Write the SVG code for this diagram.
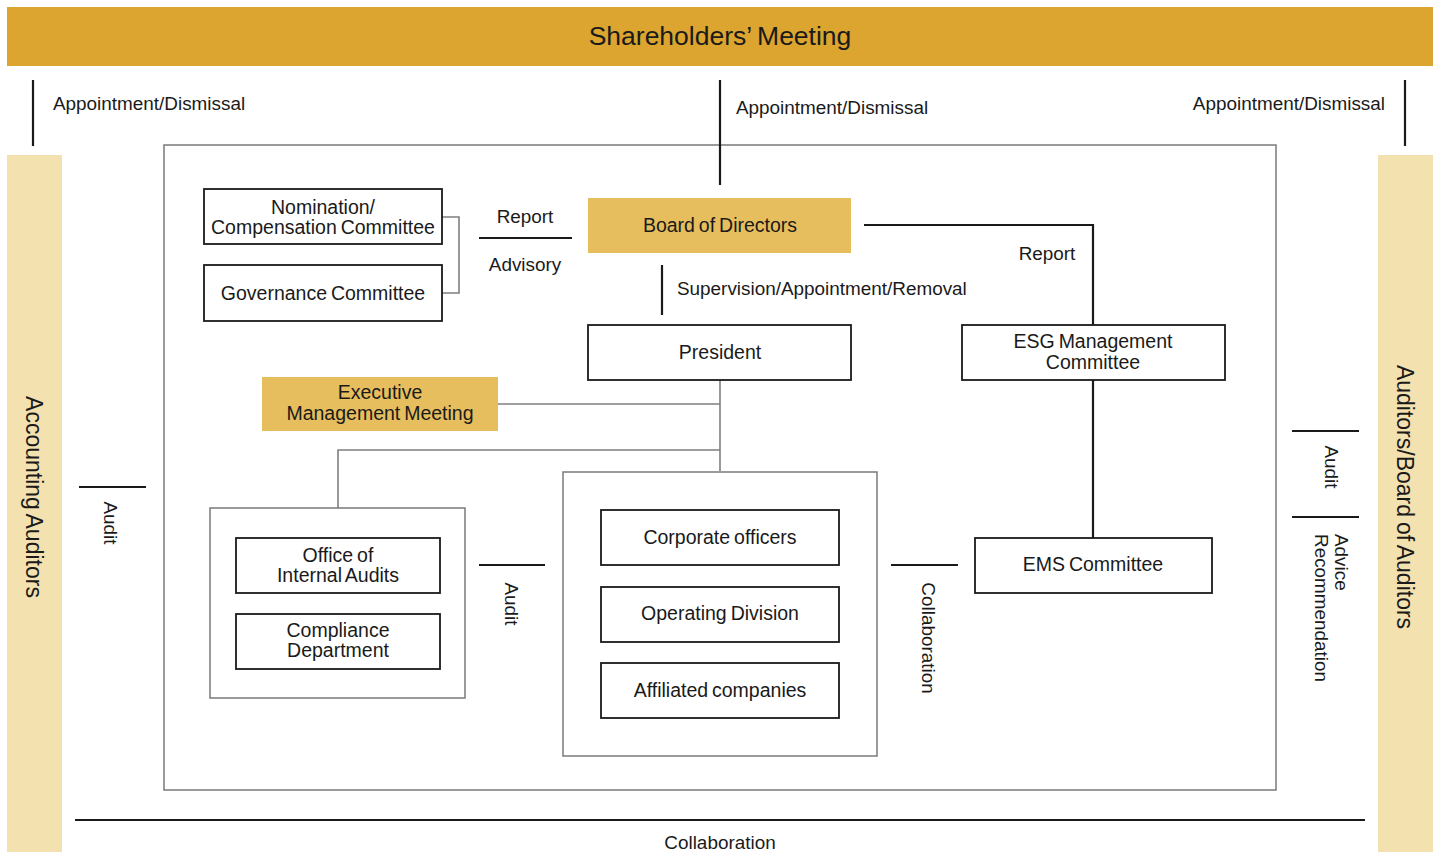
<svg xmlns="http://www.w3.org/2000/svg" width="1441" height="854" viewBox="0 0 1441 854">
<style>
text{font-family:"Liberation Sans",Arial,sans-serif;fill:#1a1a1a;word-spacing:-1.5px}
.t{font-size:19.5px;text-anchor:middle}
.l{font-size:18.9px}
.box{fill:#fff;stroke:#1a1a1a;stroke-width:1.8}
.gold{fill:#E6BE5E}
.frame{fill:none;stroke:#7a7a7a;stroke-width:1.5}
.blk{stroke:#1a1a1a;stroke-width:2.2;fill:none}
.gry{stroke:#7f7f7f;stroke-width:1.6;fill:none}
</style>
<rect width="1441" height="854" fill="#fff"/>

<g id="shareholders">
<rect x="7" y="7" width="1426" height="59" fill="#DBA530"/>
<text x="720" y="45" style="font-size:26.5px;text-anchor:middle">Shareholders’ Meeting</text>
</g>
<g id="accounting-auditors">
<rect x="7" y="155" width="55" height="697" fill="#F4E1B0"/>
<text transform="translate(34,497) rotate(90)" x="0" y="8" style="font-size:23px;text-anchor:middle">Accounting Auditors</text>
</g>
<g id="board-of-auditors">
<rect x="1378" y="155" width="55" height="697" fill="#F4E1B0"/>
<text transform="translate(1405,497) rotate(90)" x="0" y="8" style="font-size:23px;text-anchor:middle">Auditors/Board of Auditors</text>
</g>

<g id="frames">
<rect class="frame" x="164" y="145" width="1112" height="645"/>
<rect class="frame" x="210" y="508" width="255" height="190"/>
<rect class="frame" x="563" y="472" width="314" height="284"/>
</g>

<g id="connectors">
<line class="blk" x1="33" y1="80" x2="33" y2="146"/>
<line class="blk" x1="720" y1="80" x2="720" y2="185"/>
<line class="blk" x1="1405" y1="80" x2="1405" y2="146"/>
<path class="gry" d="M442 217 H459 V293 H442"/>
<line class="blk" x1="479" y1="238" x2="572" y2="238"/>
<path class="blk" d="M864 225 H1093 V325"/>
<line class="blk" x1="662" y1="265" x2="662" y2="315"/>
<line class="blk" x1="1093" y1="380" x2="1093" y2="538"/>
<path class="gry" d="M498 404 H720"/>
<path class="gry" d="M720 380 V471"/>
<path class="gry" d="M720 450 H338 V508"/>
<line class="blk" x1="479" y1="565" x2="545" y2="565"/>
<line class="blk" x1="891" y1="565" x2="958" y2="565"/>
<line class="blk" x1="79" y1="487" x2="146" y2="487"/>
<line class="blk" x1="1292" y1="431" x2="1359" y2="431"/>
<line class="blk" x1="1292" y1="517" x2="1359" y2="517"/>
<line class="blk" x1="75" y1="820" x2="1365" y2="820"/>
</g>

<g id="labels">
<text class="l" x="53" y="110">Appointment/Dismissal</text>
<text class="l" x="736" y="114">Appointment/Dismissal</text>
<text class="l" x="1385" y="110" style="text-anchor:end">Appointment/Dismissal</text>
<text class="l" x="525" y="223" style="text-anchor:middle">Report</text>
<text class="l" x="525" y="271" style="text-anchor:middle">Advisory</text>
<text class="l" x="1047" y="260" style="text-anchor:middle">Report</text>
<text class="l" x="677" y="295">Supervision/Appointment/Removal</text>
<text class="l" transform="translate(511,604) rotate(90)" x="0" y="6.5" style="text-anchor:middle">Audit</text>
<text class="l" transform="translate(928,638) rotate(90)" x="0" y="6.5" style="text-anchor:middle">Collaboration</text>
<text class="l" transform="translate(110,523) rotate(90)" x="0" y="6.5" style="text-anchor:middle">Audit</text>
<text class="l" transform="translate(1331,467) rotate(90)" x="0" y="6.5" style="text-anchor:middle">Audit</text>
<text class="l" transform="translate(1331,534) rotate(90)" x="0" y="-3.5">Advice</text>
<text class="l" transform="translate(1331,534) rotate(90)" x="0" y="16.5">Recommendation</text>
<text class="l" x="720" y="849" style="text-anchor:middle">Collaboration</text>
</g>

<g id="nomination">
<rect class="box" x="204" y="189" width="238" height="55"/>
<text class="t" x="323" y="214">Nomination/</text>
<text class="t" x="323" y="234">Compensation Committee</text>
</g>
<g id="governance">
<rect class="box" x="204" y="265" width="238" height="56"/>
<text class="t" x="323" y="300">Governance Committee</text>
</g>
<g id="board">
<rect class="gold" x="588" y="198" width="263" height="55"/>
<text class="t" x="720" y="232">Board of Directors</text>
</g>
<g id="president">
<rect class="box" x="588" y="325" width="263" height="55"/>
<text class="t" x="720" y="359">President</text>
</g>
<g id="esg">
<rect class="box" x="962" y="325" width="263" height="55"/>
<text class="t" x="1093" y="348">ESG Management</text>
<text class="t" x="1093" y="369">Committee</text>
</g>
<g id="executive">
<rect class="gold" x="262" y="377" width="236" height="54"/>
<text class="t" x="380" y="399">Executive</text>
<text class="t" x="380" y="420">Management Meeting</text>
</g>
<g id="internal-audits">
<rect class="box" x="236" y="538" width="204" height="55"/>
<text class="t" x="338" y="562">Office of</text>
<text class="t" x="338" y="582">Internal Audits</text>
</g>
<g id="compliance">
<rect class="box" x="236" y="614" width="204" height="55"/>
<text class="t" x="338" y="637">Compliance</text>
<text class="t" x="338" y="657">Department</text>
</g>
<g id="corporate-officers">
<rect class="box" x="601" y="510" width="238" height="55"/>
<text class="t" x="720" y="544">Corporate officers</text>
</g>
<g id="operating-division">
<rect class="box" x="601" y="587" width="238" height="55"/>
<text class="t" x="720" y="620">Operating Division</text>
</g>
<g id="affiliated">
<rect class="box" x="601" y="663" width="238" height="55"/>
<text class="t" x="720" y="697">Affiliated companies</text>
</g>
<g id="ems">
<rect class="box" x="975" y="538" width="237" height="55"/>
<text class="t" x="1093" y="571">EMS Committee</text>
</g>
</svg>
